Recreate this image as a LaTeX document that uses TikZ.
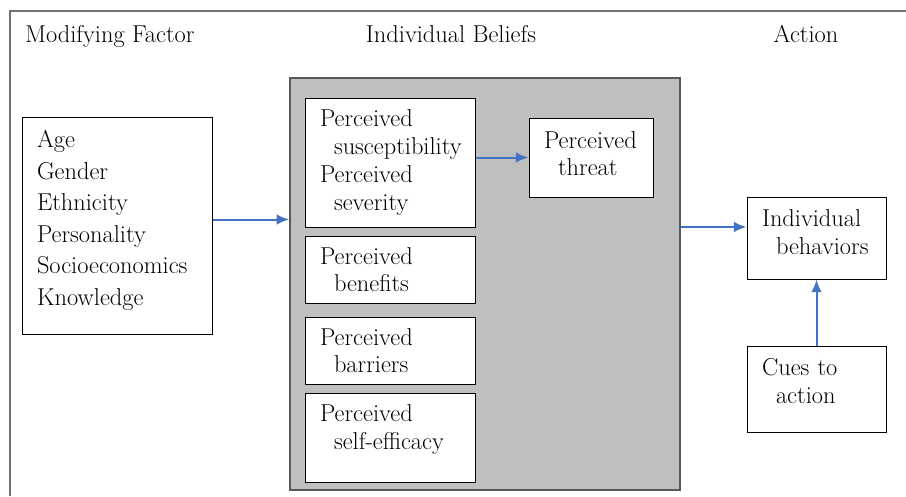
\documentclass[tikz,border=0pt]{standalone}
\usetikzlibrary{
arrows,
arrows.meta,
calc,
positioning
}
\tikzset{>={Latex[length=9.5pt,width=8pt]}}

\begin{document}
\begin{tikzpicture}[x=0.75pt, y=-0.75pt, font=\fontsize{18.3}{20.8}\selectfont,
		box/.style={draw, fill=white, line width=0.75pt, align=left, inner xsep=11.25pt, inner ysep=0pt,
			execute at begin node={\hyphenpenalty=10000\hbadness=10000\hfuzz=20pt}},
		flow/.style={->, draw={rgb,255:red,68;green,114;blue,196}, fill={rgb,255:red,68;green,114;blue,196}, line width=1.5pt}]
		\useasboundingbox (0,0) rectangle (906,496);
		\draw[line width=1.1pt, draw=black!55] (10,496) -- (10,11) -- (906,11);
		
		\node[anchor=base west, inner sep=0pt] (modifying) at (25,42)  {Modifying Factor};
		\node[anchor=base]      (beliefs)   at (451,42) {Individual Beliefs};
		\node[anchor=base]      (action)    at (806,42) {Action};
		
		\node[draw=black!65, fill=black!25, line width=1.1pt, minimum width=292.5pt, minimum height=309pt] (beliefarea) at (485,284) {};
		
		\node[box, text width=120pt, minimum height=162.75pt, text depth=129.25pt, font=\fontsize{18.3}{23.6}\selectfont] (factors) at (117,225.5)
			{Age\\Gender\\Ethnicity\\Personality\\Socioeconomics\\Knowledge};
		
		\node[box, text width=105pt, minimum height=96.75pt] (susceptibility) at (390,162.5)
			{Perceived\\\hspace*{10.5pt}susceptibility\\Perceived\\\hspace*{10.5pt}severity};
		\node[box, text width=105pt, minimum height=50.25pt, below=6pt of susceptibility] (benefits)
			{Perceived\\\hspace*{10.5pt}benefits};
		\node[box, text width=105pt, minimum height=50.25pt, below=9.75pt of benefits] (barriers)
			{Perceived\\\hspace*{10.5pt}barriers};
		\node[box, text width=105pt, minimum height=66.75pt, text depth=36.55pt, below=6pt of barriers] (efficacy)
			{Perceived\\\hspace*{10.5pt}self-efficacy};
		
		\node[box, text width=70.5pt, minimum height=59.25pt, text depth=26.8pt] (threat) at (591,157.5)
			{Perceived\\\hspace*{10.5pt}threat};
		
		\node[box, text width=81.75pt, minimum height=61.5pt, text depth=29.8pt] (behaviors) at (816.5,238)
			{Individual\\\hspace*{10.5pt}behaviors};
		\node[box, text width=81.75pt, minimum height=64.5pt, text depth=32.8pt] (cues) at (816.5,389)
			{Cues to\\\hspace*{10.5pt}action};
		
		\draw[flow] ([yshift=4.5pt]factors.east) -- ([yshift=4.5pt]factors.east -| beliefarea.west);
		\draw[flow] (threat.west -| susceptibility.east) -- (threat.west);
		\draw[flow] ([yshift=8.25pt]behaviors.west -| beliefarea.east) -- ([yshift=8.25pt]behaviors.west);
		\draw[flow] (cues) -- (behaviors);
	\end{tikzpicture}
\end{document}
